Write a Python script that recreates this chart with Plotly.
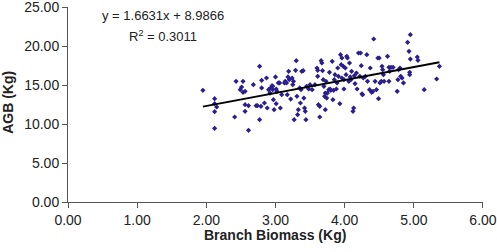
import plotly.graph_objects as go

branch_biomass = [
    1.95, 2.12, 2.12, 2.12, 2.12, 2.15, 2.41, 2.43, 2.53, 2.49, 2.51, 2.53, 2.56, 2.56, 2.56, 2.61, 2.61, 3.01,
    2.68, 2.72, 2.74, 2.77, 2.77, 2.79, 2.80, 2.80, 2.84, 2.87, 2.88, 2.90, 2.92, 2.93, 2.95, 2.96, 2.96,
    2.97, 2.98, 3.00, 3.01, 3.02, 3.04, 3.06, 3.07, 3.09, 3.13, 3.14, 3.16, 3.17, 3.18, 3.19, 3.20, 3.22,
    3.24, 3.25, 3.26, 3.27, 3.29, 3.30, 3.31, 3.32, 3.33, 3.35, 3.36, 3.37, 3.38, 3.40, 3.41, 3.42, 3.43,
    3.44, 3.45, 3.48, 3.50, 3.53, 3.57, 3.60, 3.61, 3.61, 3.62, 3.64, 3.64, 3.66, 3.67, 3.68, 3.69, 3.70,
    3.71, 3.72, 3.72, 3.73, 3.74, 3.75, 3.77, 3.78, 3.79, 3.80, 3.82, 3.83, 3.84, 3.85, 3.86, 3.88, 3.89,
    3.90, 3.91, 3.93, 3.94, 3.95, 3.96, 3.96, 3.98, 3.99, 3.99, 4.01, 4.02, 4.03, 4.04, 4.06, 4.07, 4.08,
    4.09, 4.10, 4.12, 4.13, 4.14, 4.15, 4.17, 4.18, 4.20, 4.22, 4.23, 4.24, 4.25, 4.26, 4.27, 4.30, 4.32,
    4.33, 4.36, 4.37, 4.39, 4.41, 4.42, 4.44, 4.46, 4.48, 4.49, 4.50, 4.51, 4.53, 4.54, 4.55, 4.56, 4.57,
    4.62, 4.64, 4.64, 4.65, 4.67, 4.70, 4.76, 4.77, 4.78, 4.80, 4.81, 4.83, 4.85, 4.91, 4.93, 4.94, 4.94,
    4.95, 4.95, 5.05, 5.06, 5.15, 5.33, 5.37,
]
agb = [
    14.32, 13.25, 12.61, 11.58, 9.44, 12.18, 10.90, 15.47, 15.47, 14.40, 14.74, 14.06, 14.19, 12.48, 11.62, 12.35, 9.19, 12.60,
    15.04, 12.35, 12.35, 17.39, 10.56, 12.26, 15.60, 14.62, 12.69, 15.90, 12.05, 14.40, 13.97, 14.62, 14.91, 14.83, 14.40,
    13.12, 11.84, 16.03, 14.49, 14.19, 15.26, 15.26, 12.05, 13.76, 15.26, 15.47, 15.26, 13.76, 16.03, 16.75, 15.68, 13.20,
    15.90, 15.04, 15.47, 10.56, 16.88, 18.12, 13.55, 11.20, 11.84, 14.62, 12.69, 14.40, 16.75, 16.84, 13.33, 12.05, 11.62,
    10.56, 14.83, 14.49, 15.04, 14.40, 15.04, 17.18, 16.88, 16.11, 12.48, 12.26, 10.90, 18.12, 17.82, 16.84, 15.68, 14.83,
    13.55, 13.97, 11.84, 15.47, 13.33, 13.97, 14.40, 16.62, 14.49, 14.32, 18.03, 13.12, 14.32, 15.68, 16.32, 14.49, 15.26,
    17.18, 16.11, 12.61, 18.89, 17.61, 18.46, 15.90, 17.39, 14.49, 15.68, 17.18, 16.32, 18.68, 18.46, 15.47, 17.82, 16.03,
    15.68, 16.75, 11.62, 12.05, 16.20, 15.17, 16.54, 14.49, 19.10, 16.11, 19.10, 17.48, 13.85, 13.76, 15.90, 16.11, 18.89,
    15.47, 14.40, 17.18, 14.06, 14.19, 20.90, 15.47, 14.40, 18.46, 13.25, 18.46, 15.26, 15.47, 17.39, 16.97, 16.32, 15.47,
    18.68, 17.26, 15.47, 16.75, 17.26, 17.26, 14.19, 15.68, 16.97, 17.18, 16.11, 15.90, 15.26, 20.47, 19.32, 16.62, 16.32,
    21.45, 18.33, 18.59, 18.16, 14.40, 15.77, 17.39,
]

slope = 1.6631
intercept = 8.9866
r_squared = 0.3011

x_ticks = [0, 1, 2, 3, 4, 5, 6]
y_ticks = [0, 5, 10, 15, 20, 25]

font = "Liberation Sans, Arial, sans-serif"
txt = "#222222"

x_fit = [min(branch_biomass), max(branch_biomass)]
y_fit = [slope * v + intercept for v in x_fit]

fig = go.Figure()
fig.add_trace(go.Scatter(
    x=branch_biomass, y=agb, mode="markers",
    marker=dict(symbol="diamond", size=4, color="#2a1f8c", line=dict(width=0)),
    showlegend=False, cliponaxis=False,
))
fig.add_trace(go.Scatter(
    x=x_fit, y=y_fit, mode="lines",
    line=dict(color="black", width=2), showlegend=False,
))

ann = dict(xref="paper", yref="paper", showarrow=False, xanchor="center", yanchor="middle")
fig.add_annotation(
    x=0.229, y=0.954, text=f"y = {slope}x + {intercept}",
    font=dict(family=font, size=13, color=txt), **ann,
)
fig.add_annotation(
    x=0.229, y=0.851, text=f"R<sup>2</sup> = {r_squared}",
    font=dict(family=font, size=13, color=txt), **ann,
)
fig.add_annotation(
    x=0.499, y=-0.169, text="<b>Branch Biomass (Kg)</b>",
    font=dict(family=font, size=14, color=txt), **ann,
)
fig.add_annotation(
    x=-0.145, y=0.513, text="<b>AGB (Kg)</b>", textangle=-90,
    font=dict(family=font, size=14, color=txt), **ann,
)

fig.update_layout(
    width=497, height=252,
    margin=dict(l=68, r=14, t=7, b=50, autoexpand=False),
    paper_bgcolor="white", plot_bgcolor="white",
    font=dict(family=font, size=14, color=txt),
    xaxis=dict(
        range=[0, 6.0001], tickvals=x_ticks, tickformat=".2f",
        showgrid=False, zeroline=False, automargin=False,
        showline=True, linecolor="#555555", linewidth=1,
        ticks="outside", ticklen=5, tickcolor="#555555",
        ticklabeloverflow="allow",
    ),
    yaxis=dict(
        range=[0, 25.0001], tickvals=y_ticks, tickformat=".2f",
        showgrid=False, zeroline=False, automargin=False,
        showline=True, linecolor="#555555", linewidth=1,
        ticks="outside", ticklen=5, tickcolor="#555555",
        ticklabeloverflow="allow",
    ),
)

fig.write_html(
    "out.html",
    config={"displayModeBar": False},
    post_script="document.body.style.margin='0';document.body.style.overflow='hidden';",
)
